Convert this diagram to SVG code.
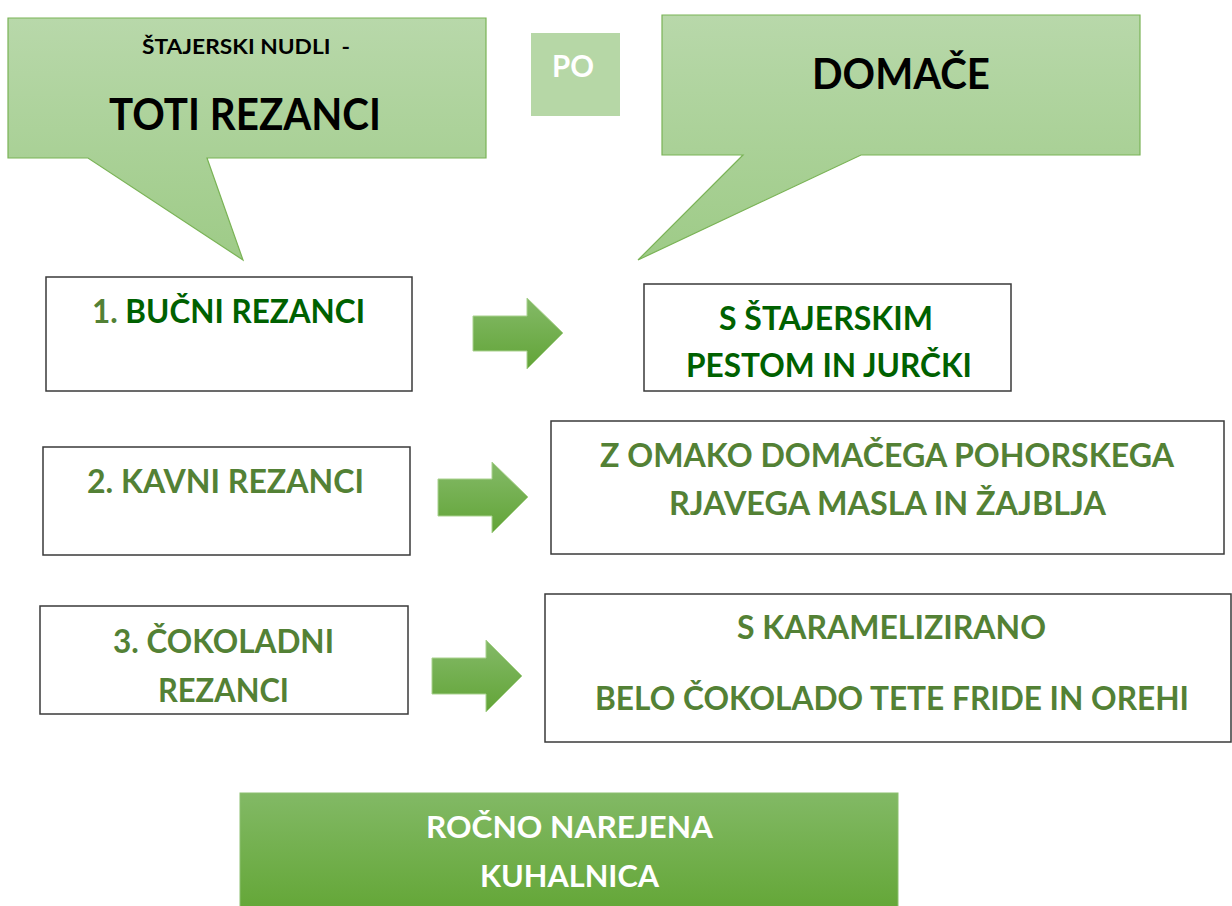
<svg xmlns="http://www.w3.org/2000/svg" width="1232" height="906" viewBox="0 0 1232 906">
<defs>
<linearGradient id="callG" x1="0" y1="0" x2="0" y2="1">
<stop offset="0" stop-color="#b8d8aa"/>
<stop offset="1" stop-color="#9ecb87"/>
</linearGradient>
<linearGradient id="arrG" x1="0" y1="0" x2="0" y2="1">
<stop offset="0" stop-color="#84ba68"/>
<stop offset="1" stop-color="#62a437"/>
</linearGradient>
<linearGradient id="botG" x1="0" y1="0" x2="0" y2="1">
<stop offset="0" stop-color="#82b965"/>
<stop offset="1" stop-color="#63a636"/>
</linearGradient>
</defs>
<style>
text{font-family:Lato,"Open Sans","Liberation Sans",sans-serif;font-weight:bold;}
.call{fill:url(#callG);stroke:#7ab356;stroke-width:1.2;}
.box{fill:#ffffff;stroke:#3a3a3a;stroke-width:1.5;}
.arr{fill:url(#arrG);stroke:#a9d18e;stroke-width:1;}
.olive{fill:#538135;font-size:33px;}
.dark{fill:#006100;font-size:33px;}
.blk{fill:#000000;}
.wht{fill:#ffffff;}
</style>
<rect width="1232" height="906" fill="#ffffff"/>
<g id="callout-left">
<path class="call" d="M8,18 H486 V158 H207 L243,260 L88,158 H8 Z"/>
<text class="blk" x="142" y="54" font-size="21" textLength="208" lengthAdjust="spacingAndGlyphs" xml:space="preserve">ŠTAJERSKI NUDLI  -</text>
<text class="blk" x="109" y="130" font-size="44" textLength="272" lengthAdjust="spacingAndGlyphs">TOTI REZANCI</text>
</g>
<g id="po">
<rect x="531" y="33" width="89" height="83" fill="#b6d7a6"/>
<text class="wht" x="552" y="77" font-size="31" textLength="42" lengthAdjust="spacingAndGlyphs">PO</text>
</g>
<g id="callout-right">
<path class="call" d="M662,15 H1140 V155 H861 L638,260 L743,155 H662 Z"/>
<text class="blk" x="812" y="89" font-size="42" textLength="178" lengthAdjust="spacingAndGlyphs">DOMAČE</text>
</g>
<g id="box-1">
<rect class="box" x="46" y="277" width="366" height="114"/>
<text x="92" y="323" font-size="33" textLength="273" lengthAdjust="spacingAndGlyphs"><tspan fill="#538135">1. </tspan><tspan fill="#006100">BUČNI REZANCI</tspan></text>
</g>
<g id="box-2">
<rect class="box" x="43" y="447" width="367" height="108"/>
<text class="olive" x="87" y="493" textLength="277" lengthAdjust="spacingAndGlyphs">2. KAVNI REZANCI</text>
</g>
<g id="box-3">
<rect class="box" x="40" y="606" width="368" height="108"/>
<text class="olive" x="113" y="653" textLength="221" lengthAdjust="spacingAndGlyphs">3. ČOKOLADNI</text>
<text class="olive" x="158" y="702" textLength="131" lengthAdjust="spacingAndGlyphs">REZANCI</text>
</g>
<g id="result-1">
<rect class="box" x="644" y="284" width="367" height="107"/>
<text class="dark" x="719" y="330" textLength="214" lengthAdjust="spacingAndGlyphs">S ŠTAJERSKIM</text>
<text class="dark" x="686" y="377" textLength="286" lengthAdjust="spacingAndGlyphs">PESTOM IN JURČKI</text>
</g>
<g id="result-2">
<rect class="box" x="551" y="421" width="673" height="133"/>
<text class="olive" x="600" y="467" textLength="574" lengthAdjust="spacingAndGlyphs">Z OMAKO DOMAČEGA POHORSKEGA</text>
<text class="olive" x="669" y="515" textLength="437" lengthAdjust="spacingAndGlyphs">RJAVEGA MASLA IN ŽAJBLJA</text>
</g>
<g id="result-3">
<rect class="box" x="545" y="594" width="686" height="148"/>
<text class="olive" x="737" y="639" textLength="309" lengthAdjust="spacingAndGlyphs">S KARAMELIZIRANO</text>
<text class="olive" x="595" y="710" textLength="594" lengthAdjust="spacingAndGlyphs">BELO ČOKOLADO TETE FRIDE IN OREHI</text>
</g>
<g id="footer">
<rect x="240" y="793" width="658" height="120" fill="url(#botG)" stroke="#8cc070" stroke-width="1"/>
<text class="wht" x="426" y="838" font-size="31" textLength="287" lengthAdjust="spacingAndGlyphs">ROČNO NAREJENA</text>
<text class="wht" x="480" y="887" font-size="31" textLength="179" lengthAdjust="spacingAndGlyphs">KUHALNICA</text>
</g>
<g id="connectors">
<polygon class="arr" points="473,316 527,316 527,298 563,333 527,369 527,351 473,351"/>
<polygon class="arr" points="438,479 492,479 492,462 528,497 492,533 492,516 438,516"/>
<polygon class="arr" points="432,658 486,658 486,640 522,676 486,712 486,694 432,694"/>
</g>
</svg>
